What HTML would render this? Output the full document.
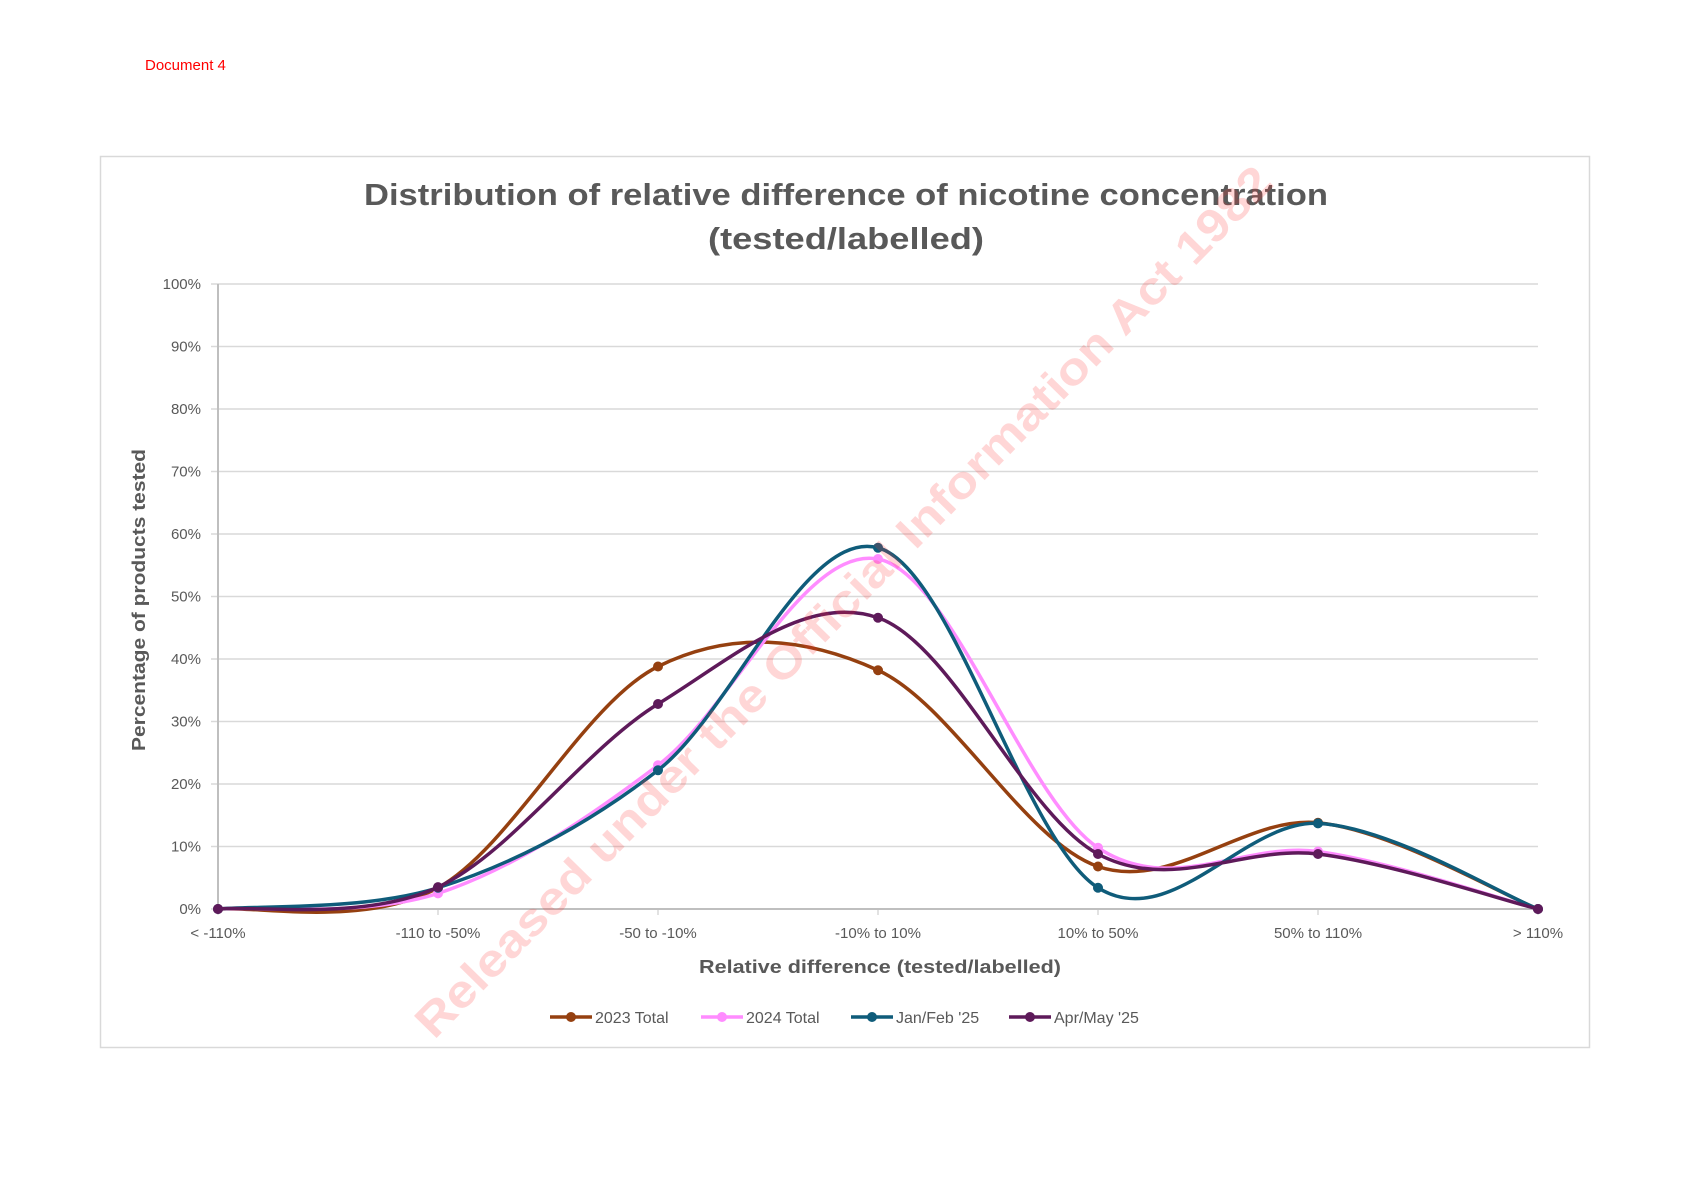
<!DOCTYPE html>
<html><head><meta charset="utf-8"><style>
html,body{margin:0;padding:0;background:#fff;}
svg{display:block;}
text{font-family:"Liberation Sans",sans-serif;}
</style></head><body>
<svg id="s" width="1684" height="1192" viewBox="0 0 1684 1192" xmlns="http://www.w3.org/2000/svg">
<rect width="1684" height="1192" fill="#fff"/>
<text x="145" y="70" font-size="15" fill="#ff0000">Document 4</text>
<rect x="100.5" y="156.5" width="1489" height="891" fill="none" stroke="#d9d9d9" stroke-width="1.5"/>
<text x="846" y="205" font-size="31" font-weight="bold" fill="#595959" text-anchor="middle" textLength="964" lengthAdjust="spacingAndGlyphs">Distribution of relative difference of nicotine concentration</text>
<text x="846" y="249" font-size="31" font-weight="bold" fill="#595959" text-anchor="middle" textLength="276" lengthAdjust="spacingAndGlyphs">(tested/labelled)</text>
<g id="grid" stroke="#d9d9d9" stroke-width="1.5"></g>
<g id="ylab" font-size="15" fill="#595959" text-anchor="end"></g>
<g id="xlab" font-size="15" fill="#595959" text-anchor="middle"></g>
<line x1="218" y1="284" x2="218" y2="909" stroke="#bfbfbf" stroke-width="2"/>
<line x1="218" y1="909" x2="1538" y2="909" stroke="#bfbfbf" stroke-width="2"/>
<text transform="translate(145,600) rotate(-90)" font-size="18" font-weight="bold" fill="#595959" text-anchor="middle" textLength="302" lengthAdjust="spacingAndGlyphs">Percentage of products tested</text>
<text x="880" y="973" font-size="18" font-weight="bold" fill="#595959" text-anchor="middle" textLength="362" lengthAdjust="spacingAndGlyphs">Relative difference (tested/labelled)</text>
<g id="series"></g>
<g id="legend" font-size="16" fill="#595959"></g>
<text transform="translate(846,604) rotate(-45.5)" font-size="46" font-weight="bold" fill="#ff3333" fill-opacity="0.2" text-anchor="middle" textLength="1200" lengthAdjust="spacingAndGlyphs" dominant-baseline="middle">Released under the Official Information Act 1982</text>
</svg>
<script>
var NS="http://www.w3.org/2000/svg";
function el(t,a,p,txt){var e=document.createElementNS(NS,t);for(var k in a)e.setAttribute(k,a[k]);if(txt!==undefined)e.textContent=txt;document.getElementById(p).appendChild(e);return e;}
var x0=218,dx=220,y0=909,h=625;
for(var i=0;i<=10;i++){var y=y0-i*h/10;
 if(i>0)el("line",{x1:218,y1:y,x2:1538,y2:y},"grid");
 el("line",{x1:211,y1:y,x2:218,y2:y},"grid");
 el("text",{x:201,y:y+5},"ylab",(i*10)+"%");}
var cats=["< -110%","-110 to -50%","-50 to -10%","-10% to 10%","10% to 50%","50% to 110%","> 110%"];
for(var i=0;i<7;i++){var x=x0+i*dx;el("line",{x1:x,y1:909,x2:x,y2:915},"grid");el("text",{x:x,y:938},"xlab",cats[i]);}
var S=[
 {c:"#954010",d:[0,3.4,38.8,38.2,6.8,13.8,0],n:"2023 Total",lx:550},
 {c:"#ff8cff",d:[0,2.5,23,56,9.8,9.2,0],n:"2024 Total",lx:701},
 {c:"#0f5c7a",d:[0,3.4,22.2,57.8,3.4,13.7,0],n:"Jan/Feb '25",lx:851},
 {c:"#5e1a5a",d:[0,3.5,32.8,46.6,8.8,8.8,0],n:"Apr/May '25",lx:1009}];
S.forEach(function(s){
 var P=s.d.map(function(v,i){return [x0+i*dx,y0-v*h/100];});
 var d="M"+P[0][0]+","+P[0][1];
 for(var i=0;i<P.length-1;i++){
  var a=P[i>0?i-1:i],b=P[i],c=P[i+1],e=P[i+2<P.length?i+2:i+1];
  var c1=[b[0]+(c[0]-a[0])/6,b[1]+(c[1]-a[1])/6],c2=[c[0]-(e[0]-b[0])/6,c[1]-(e[1]-b[1])/6];
  d+=" C"+c1+" "+c2+" "+c;}
 el("path",{d:d,fill:"none",stroke:s.c,"stroke-width":3.5,"stroke-linejoin":"round"},"series");
 P.forEach(function(p){el("circle",{cx:p[0],cy:p[1],r:5,fill:s.c},"series");});
 el("line",{x1:s.lx,y1:1017,x2:s.lx+42,y2:1017,stroke:s.c,"stroke-width":3.5},"legend");
 el("circle",{cx:s.lx+21,cy:1017,r:5,fill:s.c},"legend");
 el("text",{x:s.lx+45,y:1023},"legend",s.n);
});
</script>
</body></html>
